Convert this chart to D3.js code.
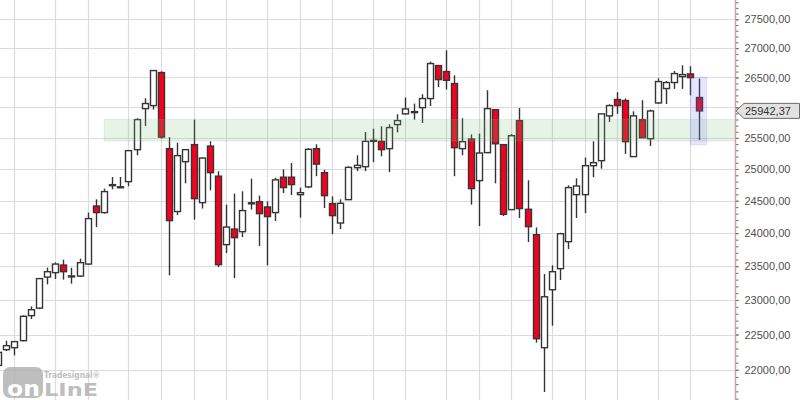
<!DOCTYPE html>
<html><head><meta charset="utf-8">
<script src="https://cdn.jsdelivr.net/npm/d3@7"></script>
<style>body{margin:0;background:#fff;} svg{display:block;}</style>
</head><body><svg id="c" width="800" height="400"></svg>
<script>
// candle indices (-1 is the partially visible first candle)
const candleIndex = d3.range(-1, 86);
const opens = [22061,22284,22312,22412,22772,22881,23338,23404,23517,23348,23353,23532,24418,24316,24740,24719,24800,25310,25980,26030,26583,25326,24332,25117,25391,24471,25368,24886,23825,24062,24022,24460,24486,24403,24316,24870,24870,24595,24717,25326,24942,24456,24155,24517,25021,25037,25452,25444,25326,25717,25893,25925,25996,26147,26702,26600,26398,25326,25481,24816,25262,25963,25391,24362,25783,24367,23976,22312,23151,23463,23870,24595,24595,25053,25133,25860,26131,26114,25198,25799,25487,26074,26314,26415,26515,26560,26164];
const highs = [22270,22412,22409,22776,22906,23326,23478,23557,23598,23478,23613,24316,24522,24690,24873,24873,25299,25821,26152,26622,26605,25513,25423,25315,25799,25186,25444,24966,24439,24612,24648,24847,24580,24491,24862,24994,25095,24706,25336,25396,24989,24569,24522,25042,25219,25595,25650,25689,25722,25887,26164,26064,26219,26770,26707,26963,26537,25821,25558,25569,26286,25968,25396,25562,25990,24821,24088,23383,23512,24006,24742,24852,25182,25444,25898,26052,26253,26147,25935,26119,25963,26487,26441,26610,26707,26690,26482];
const lows = [22040,22264,22203,22402,22722,22866,23230,23309,23300,23240,23341,23520,24093,24300,24679,24700,24727,25219,25694,25964,25487,23363,24279,24773,24207,24378,24663,23487,23698,23323,23940,24362,23804,23512,24186,24620,24589,24238,24696,24886,24387,23985,24062,24514,24966,24966,25110,25203,24950,25590,25882,25799,25743,26023,26340,26298,24886,25219,24439,24108,25259,24773,24263,24359,24232,23864,22383,21691,22627,23294,23758,24232,24310,24870,25005,25760,25893,25240,25195,25500,25368,26057,26057,26308,26308,26201,25464];
const closes = [22245,22341,22398,22762,22858,23315,23418,23532,23418,23355,23553,24223,24316,24643,24752,24711,25294,25799,26064,26617,25513,24192,25214,25310,24533,25175,24942,23523,24093,23931,24347,24468,24300,24254,24828,24706,24753,24626,25315,25078,24580,24269,24460,25026,25058,25444,25460,25310,25668,25783,25975,25930,26147,26736,26465,26453,25342,25439,24690,25256,25980,25405,24289,25536,24378,24099,22440,23047,23418,23991,24706,24731,25053,25101,25893,26030,26030,25439,25860,25503,25941,26431,26415,26566,26549,26498,25942.37];
// vertical grid lines at these candle indices
const gridIndex = [1,6,10,15,19,23,27,32,36,40,45,49,54,58,62,67,71,75,80,84];
// y-axis labels
const yTickValues = [22000,22500,23000,23500,24000,24500,25000,25500,26000,26500,27000,27500];
// zones
const greenZone = {from: 12, lo: 25450, hi: 25800};
const blueZone = {from: 84, to: 86, lo: 25386, hi: 26507};

const W = 800, H = 400, plotRight = 735;
const svg = d3.select('#c');
const x = d3.scaleLinear().domain([0, 85]).range([6.3, 698.6]);
const y = d3.scaleLog().domain([22000, 27500]).range([369.8, 19.3]);

const candles = candleIndex.map((i, k) => ({i, o: opens[k], h: highs[k], l: lows[k], c: closes[k]}));

// grid
const grid = svg.append('g');
grid.selectAll('line.h').data(yTickValues).join('line')
  .attr('x1', 0).attr('x2', plotRight)
  .attr('y1', d => Math.round(y(d)) + 0.5).attr('y2', d => Math.round(y(d)) + 0.5)
  .attr('stroke', '#dcdcdc').attr('stroke-width', 1.2);
grid.selectAll('line.v').data(gridIndex).join('line')
  .attr('x1', d => Math.round(x(d)) + 0.5).attr('x2', d => Math.round(x(d)) + 0.5)
  .attr('y1', 0).attr('y2', H)
  .attr('stroke', '#dcdcdc').attr('stroke-width', 1.2);

// logo
const logo = svg.append('g').attr('opacity', 0.85);
logo.append('rect').attr('x', 3).attr('y', 367).attr('width', 40).attr('height', 31).attr('rx', 7).attr('fill', '#b3b3b3');
logo.append('text').attr('x', 7).attr('y', 396).attr('font-family', 'DejaVu Sans').attr('font-weight', 'bold')
  .attr('font-size', 22).attr('fill', '#fff').attr('textLength', 33).attr('lengthAdjust', 'spacingAndGlyphs').text('on');
logo.append('text').attr('x', 44).attr('y', 396).attr('font-family', 'DejaVu Sans').attr('font-weight', 'bold')
  .attr('font-size', 17).attr('fill', '#b3b3b3').attr('textLength', 54).attr('lengthAdjust', 'spacingAndGlyphs').text('LInE');
logo.append('text').attr('x', 44).attr('y', 378).attr('font-family', 'DejaVu Sans').attr('font-weight', 'bold')
  .attr('font-size', 8).attr('fill', '#b3b3b3').attr('textLength', 56).attr('lengthAdjust', 'spacingAndGlyphs').text('Tradesignal®');

// candles
const cg = svg.append('g');
const bw = 6;
cg.selectAll('line.w').data(candles).join('line')
  .attr('x1', d => Math.round(x(d.i)) + 0.5).attr('x2', d => Math.round(x(d.i)) + 0.5)
  .attr('y1', d => y(d.h)).attr('y2', d => y(d.l))
  .attr('stroke', '#333').attr('stroke-width', 1.4);
cg.selectAll('rect.b').data(candles).join('rect')
  .attr('x', d => Math.round(x(d.i)) + 0.5 - bw / 2)
  .attr('y', d => y(Math.max(d.o, d.c)))
  .attr('width', bw)
  .attr('height', d => Math.max(1, y(Math.min(d.o, d.c)) - y(Math.max(d.o, d.c))))
  .attr('fill', d => d.c < d.o ? '#f5001f' : '#fff')
  .attr('stroke', '#353535').attr('stroke-width', 1.4);

// zones
svg.append('rect').attr('x', x(greenZone.from)).attr('width', plotRight - x(greenZone.from))
  .attr('y', y(greenZone.hi)).attr('height', y(greenZone.lo) - y(greenZone.hi))
  .attr('fill', 'rgb(120,190,120)').attr('fill-opacity', 0.18)
  .attr('stroke', 'rgb(120,190,120)').attr('stroke-opacity', 0.2);
svg.append('rect').attr('x', x(blueZone.from)).attr('width', x(blueZone.to) - x(blueZone.from))
  .attr('y', y(blueZone.hi)).attr('height', y(blueZone.lo) - y(blueZone.hi))
  .attr('fill', 'rgb(110,110,255)').attr('fill-opacity', 0.18)
  .attr('stroke', 'rgb(110,110,255)').attr('stroke-opacity', 0.15);

// axis
const lastC = closes[closes.length - 1];
const ly = y(lastC);
svg.append('rect').attr('x', plotRight).attr('y', 0).attr('width', W - plotRight).attr('height', H).attr('fill', '#fff');
const fmt = v => d3.format('.2f')(v).replace('.', ',');
const minorTicks = d3.range(21500, 28001, 100);
const minorAxis = d3.axisRight(y).tickValues(minorTicks).tickSize(3).tickFormat('');
svg.append('g').attr('transform', `translate(${plotRight + 0.5},0)`).call(minorAxis)
  .call(g => g.select('.domain').remove())
  .call(g => g.selectAll('line').attr('stroke', '#666'));
// labels hidden behind the last-price marker are not drawn
const axis = d3.axisRight(y).tickValues(yTickValues).tickSize(3).tickPadding(6)
  .tickFormat(v => Math.abs(y(v) - ly) < 14 ? '' : fmt(v));
svg.append('g').attr('transform', `translate(${plotRight + 0.5},0)`).call(axis)
  .call(g => g.select('.domain').remove())
  .call(g => g.selectAll('line').attr('stroke', '#666'))
  .call(g => g.selectAll('text').attr('fill', '#505050').attr('font-family', 'Liberation Sans, Arial, sans-serif').attr('font-size', 11));
svg.append('line').attr('x1', plotRight + 0.5).attr('x2', plotRight + 0.5).attr('y1', 0).attr('y2', H)
  .attr('stroke', '#c9a2a2').attr('stroke-width', 1.5);

// last price marker
svg.append('path')
  .attr('d', `M${plotRight + 1},${ly} L${plotRight + 9},${ly - 7.5} L${W - 0.5},${ly - 7.5} L${W - 0.5},${ly + 7.5} L${plotRight + 9},${ly + 7.5} Z`)
  .attr('fill', '#e2e2e2').attr('stroke', '#6a6a6a').attr('stroke-width', 1);
svg.append('text').attr('x', 745).attr('y', ly).attr('dy', '0.35em')
  .attr('font-family', 'Liberation Sans, Arial, sans-serif').attr('font-size', 11).attr('fill', '#333')
  .text(fmt(lastC));
</script></body></html>
